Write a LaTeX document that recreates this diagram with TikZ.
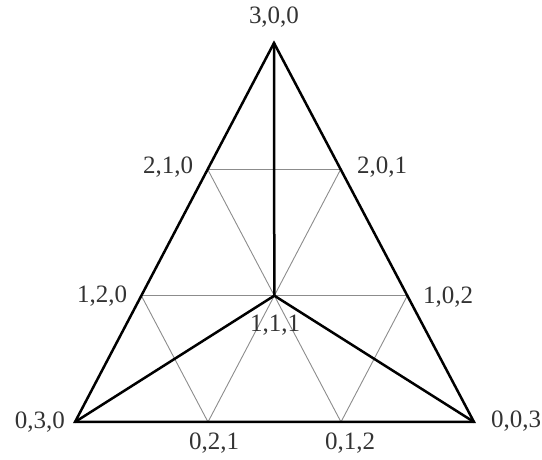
\documentclass[tikz,border=0pt]{standalone}
\usepackage{fontspec}
\setmainfont{Liberation Serif}
\usepackage{tikz}
\usetikzlibrary{calc}

\begin{document}
\begin{tikzpicture}[x=0.5pt,y=-0.5pt,
  lab/.style={font=\fontsize{12.5}{14}\selectfont,inner sep=0pt,text=black!80},
  grid/.style={draw=black!45,line width=0.45pt},
  edge/.style={draw=black,line width=1.25pt,line join=miter}]
\useasboundingbox (0,0) rectangle (542,460);
% corners of the simplex
\coordinate (p300) at (274,43);
\coordinate (p030) at (75,422);
\coordinate (p003) at (474,422);
% lattice points
\foreach \n/\a/\b/\c in {210/2/1/0,201/2/0/1,120/1/2/0,102/1/0/2,111/1/1/1,021/0/2/1,012/0/1/2}
  \coordinate (p\n) at (barycentric cs:p300=\a,p030=\b,p003=\c);
% thin lattice lines
\foreach \x/\y in {p210/p201,p120/p102,p210/p012,p120/p021,p201/p021,p102/p012}
  \draw[grid] (\x)--(\y);
% thick edges
\draw[edge] (p300)--(p030)--(p003)--cycle;
\foreach \x in {p300,p030,p003} \draw[edge] (\x)--(p111);
% labels
\node[lab] (l300) at (274,17) {3,0,0};
\node[lab] (l210) at (168,167) {2,1,0};
\node[lab] (l201) at (382,167) {2,0,1};
\node[lab] (l120) at (102,296) {1,2,0};
\node[lab] (l102) at (448,297) {1,0,2};
\node[lab] (l111) at (275,325) {1,1,1};
\node[lab] (l030) at (40,422) {0,3,0};
\node[lab] (l003) at (516,421) {0,0,3};
\node[lab] (l021) at (214,443) {0,2,1};
\node[lab] (l012) at (350,443) {0,1,2};
\end{tikzpicture}
\end{document}
